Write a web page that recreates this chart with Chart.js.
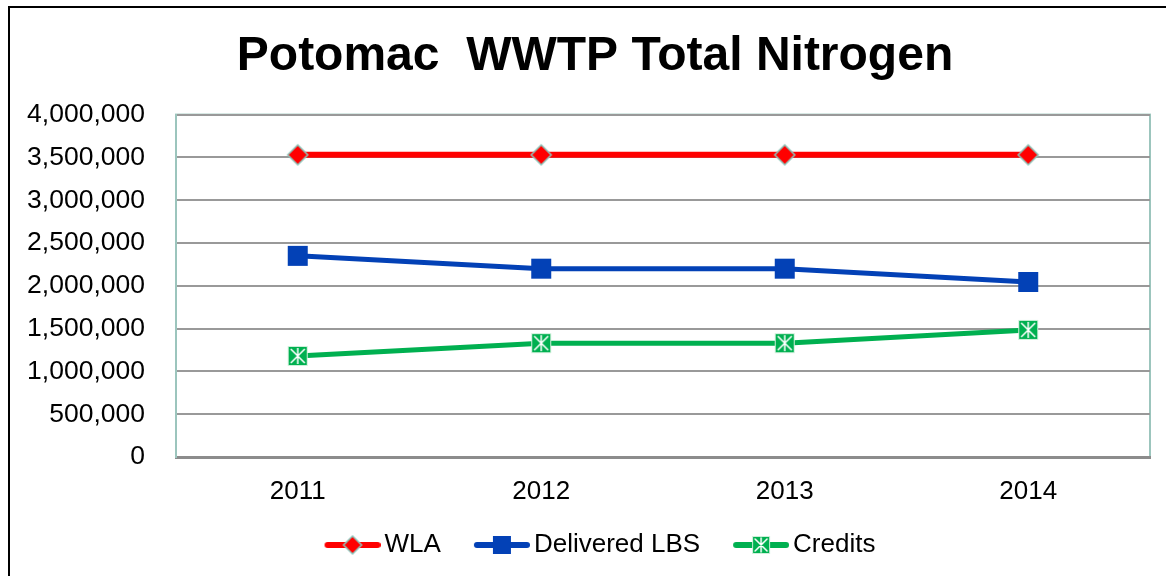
<!DOCTYPE html>
<html>
<head>
<meta charset="utf-8">
<script src="https://cdn.jsdelivr.net/npm/chart.js@4"></script>
<style>
  html, body { margin: 0; padding: 0; background: #fff; }
  canvas { display: block; }
</style>
</head>
<body>
<canvas id="grafikoa" width="1166" height="576"></canvas>
<script>
const years = ['2011', '2012', '2013', '2014'];
const wla = [3530000, 3530000, 3530000, 3530000];
const delivered = [2350000, 2200000, 2200000, 2045000];
const credits = [1180000, 1330000, 1330000, 1485000];
const yMax = 4000000;
const yStep = 500000;

const RED = '#FF0000';
const BLUE = '#0341B6';
const GREEN = '#00B050';

function makeCanvas(w, h) {
  const c = document.createElement('canvas');
  c.width = w;
  c.height = h;
  return c;
}

// marker painters (x, y = centre)
function diamond(ctx, x, y, s) {
  const r = s / 2;
  ctx.beginPath();
  ctx.moveTo(x, y - r);
  ctx.lineTo(x + r, y);
  ctx.lineTo(x, y + r);
  ctx.lineTo(x - r, y);
  ctx.closePath();
  ctx.fillStyle = RED;
  ctx.fill();
  ctx.lineWidth = 1.5;
  ctx.strokeStyle = '#8EC3B8';
  ctx.stroke();
}

function square(ctx, x, y, s) {
  ctx.fillStyle = BLUE;
  ctx.fillRect(x - s / 2, y - s / 2, s, s);
}

function starBox(ctx, x, y, s) {
  const h = s / 2;
  ctx.fillStyle = GREEN;
  ctx.fillRect(x - h, y - h, s, s);
  ctx.strokeStyle = '#CDEFD9';
  ctx.lineWidth = 1;
  ctx.strokeRect(x - h + 0.5, y - h + 0.5, s - 1, s - 1);
  ctx.strokeStyle = '#fff';
  ctx.lineWidth = 1.5;
  ctx.beginPath();
  ctx.moveTo(x - h + 3, y - h + 3); ctx.lineTo(x + h - 3, y + h - 3);
  ctx.moveTo(x + h - 3, y - h + 3); ctx.lineTo(x - h + 3, y + h - 3);
  ctx.moveTo(x, y - h + 2); ctx.lineTo(x, y + h - 2);
  ctx.stroke();
}

function marker(paint, size) {
  const c = makeCanvas(24, 24);
  paint(c.getContext('2d'), 12, 12, size);
  return c;
}

// legend icon: line with marker, blank 9px on the left so it sits flush in the box
function legendIcon(paint, color, width) {
  const c = makeCanvas(65, 22);
  const ctx = c.getContext('2d');
  ctx.strokeStyle = color;
  ctx.lineWidth = width;
  ctx.lineCap = 'round';
  ctx.beginPath();
  ctx.moveTo(12, 11);
  ctx.lineTo(62, 11);
  ctx.stroke();
  paint(ctx, 37, 11, 18);
  return c;
}

const icons = [
  legendIcon(diamond, RED, 6),
  legendIcon(square, BLUE, 6),
  legendIcon(starBox, GREEN, 6)
];

const frame = {
  id: 'frame',
  afterLayout(chart) {
    // nudge title and legend a little right, as in the original
    chart.titleBlock.left += 9;
    chart.titleBlock.right += 9;
    chart.legend.left += 14;
    chart.legend.right += 14;
  },
  beforeDraw(chart) {
    const {ctx, chartArea: a} = chart;
    ctx.save();
    ctx.strokeStyle = '#000';
    ctx.lineWidth = 2;
    ctx.strokeRect(9, 7, chart.width + 20, chart.height + 20);
    ctx.strokeStyle = '#9CC5BD';
    ctx.lineWidth = 2;
    ctx.strokeRect(a.left, a.top, a.right - a.left, a.bottom - a.top);
    ctx.restore();
  }
};

const data = {
  labels: years,
  datasets: [
    {
      label: 'WLA',
      data: wla,
      borderColor: RED,
      borderWidth: 6,
      pointStyle: marker(diamond, 20),
      pointRadius: 10
    },
    {
      label: 'Delivered LBS',
      data: delivered,
      borderColor: BLUE,
      borderWidth: 5,
      pointStyle: marker(square, 20),
      pointRadius: 10
    },
    {
      label: 'Credits',
      data: credits,
      borderColor: GREEN,
      borderWidth: 5,
      pointStyle: marker(starBox, 20),
      pointRadius: 10
    }
  ]
};

const font = 'Liberation Sans, Arial, sans-serif';

const config = {
  type: 'line',
  data: data,
  options: {
    responsive: false,
    animation: false,
    layout: { padding: { left: 20, right: 14, top: 0, bottom: 8 } },
    plugins: {
      title: {
        display: true,
        text: 'Potomac  WWTP Total Nitrogen',
        color: '#000',
        font: { family: font, size: 48, weight: 'bold', lineHeight: 1.2 },
        padding: { top: 28, bottom: 29 }
      },
      legend: {
        position: 'bottom',
        labels: {
          usePointStyle: true,
          pointStyleWidth: 47,
          padding: 33,
          color: '#000',
          font: { family: font, size: 26 },
          generateLabels: chart =>
            Chart.defaults.plugins.legend.labels.generateLabels(chart)
              .map((item, i) => ({ ...item, pointStyle: icons[i] }))
        }
      },
      tooltip: { enabled: false }
    },
    scales: {
      x: {
        offset: true,
        grid: { display: false, drawTicks: false },
        border: { display: true, color: '#8C8C8C', width: 3 },
        ticks: { color: '#000', padding: 19, font: { family: font, size: 26 } },
        afterFit: scale => { scale.height = 42; }
      },
      y: {
        min: 0,
        max: yMax,
        grid: { color: '#999999', lineWidth: 2, drawTicks: false },
        border: { display: true, color: '#9CC5BD', width: 2 },
        ticks: {
          stepSize: yStep,
          color: '#000',
          padding: 31,
          font: { family: font, size: 26.5 },
          callback: v => v.toLocaleString('en-US')
        },
        afterFit: scale => { scale.width = 156; }
      }
    }
  },
  plugins: [frame]
};

const ctx = document.getElementById('grafikoa').getContext('2d');
new Chart(ctx, config);
</script>
</body>
</html>
